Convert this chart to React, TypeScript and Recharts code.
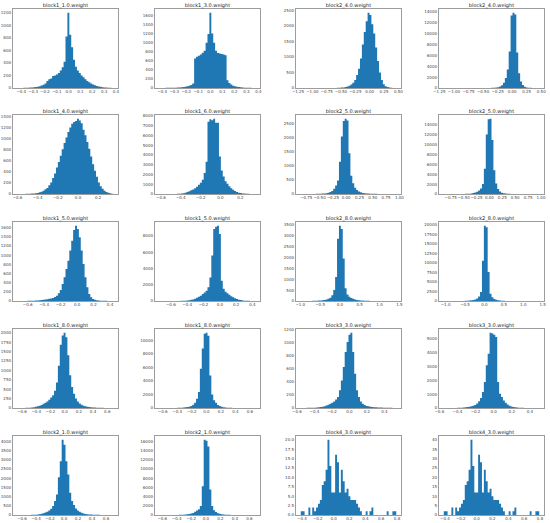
import React from "react";
import { AreaChart, Area, XAxis, YAxis } from "recharts";

const titles = [
  "block1_1.0.weight", "block1_3.0.weight", "block2_4.0.weight", "block2_4.0.weight",
  "block1_4.0.weight", "block1_6.0.weight", "block2_5.0.weight", "block2_5.0.weight",
  "block1_5.0.weight", "block1_5.0.weight", "block2_8.0.weight", "block2_8.0.weight",
  "block1_8.0.weight", "block1_8.0.weight", "block3_3.0.weight", "block3_3.0.weight",
  "block2_1.0.weight", "block2_1.0.weight", "block4_3.0.weight", "block4_3.0.weight",
];

// histogram counts (50 bins each)
const c01 = [1,2,2,3,4,5,6,8,10,14, 20,28,38,50,70,110,140,150,190,200, 215,240,280,330,420,820,1200,850,650,450, 340,280,240,200,170,140,110,90,70,55, 42,32,25,18,13,9,6,4,3,2];
const c02 = [1,2,2,3,3,4,5,6,8,10, 13,17,22,30,40,50,65,100,650,690, 710,740,780,820,1000,1190,1660,1200,1000,820, 770,760,750,740,720,170,110,75,50,38, 28,20,14,10,7,5,4,3,2,1];
const c03 = [1,0,0,0,0,0,0,0,0,0, 0,0,1,1,1,2,2,3,4,6, 9,13,20,30,45,70,110,170,260,420, 620,950,1400,1800,2150,2420,2350,2050,1750,1300, 870,500,260,120,60,30,15,8,4,2];
const c04 = [1,0,0,0,0,0,0,0,0,0, 0,0,0,1,1,1,2,2,3,4, 6,8,11,15,22,32,50,90,150,260, 500,950,1850,3400,6700,13300,13800,13500,6500,2700, 1200,550,250,110,50,25,12,6,3,1];
const c05 = [1,1,2,2,3,4,5,7,10,14, 20,30,42,60,85,110,160,210,290,370, 480,580,690,810,920,1020,1120,1200,1270,1300, 1320,1360,1330,1280,1160,1060,940,820,680,540, 420,310,210,140,95,60,38,22,12,6];
const c06 = [1,1,1,1,2,3,4,6,10,18, 30,50,80,120,200,280,380,450,600,750, 950,1150,1460,2150,3300,7400,7650,7550,7700,7300, 7300,3850,2400,1800,1300,1050,800,600,440,300, 200,140,90,60,40,25,15,9,5,2];
const c07 = [1,1,1,1,2,2,3,4,5,7, 10,14,20,30,45,70,110,190,300,480, 1150,2050,2600,2680,2620,1450,650,380,220,140, 90,60,40,28,20,14,10,8,6,5, 4,3,3,2,2,1,1,1,1,1];
const c08 = [1,1,1,2,2,3,4,6,8,12, 18,28,45,70,110,180,290,450,700,1100, 2000,5100,12000,15100,15200,10900,4800,2100,1000,500, 260,140,80,50,30,20,14,10,7,5, 4,3,2,2,1,1,1,1,1,1];
const c09 = [1,1,1,2,2,3,4,5,7,9, 12,16,20,26,33,40,48,56,65,85, 116,167,240,370,516,700,880,1100,1316,1550, 1640,1570,1390,1100,807,516,298,150,80,44, 25,15,10,7,5,4,3,2,1,1];
const c10 = [1,1,1,2,2,3,4,5,7,10, 14,20,30,45,70,100,140,200,290,400, 520,650,850,1050,1250,1700,2900,5600,8850,9150, 9260,8250,2500,1500,1150,950,780,600,460,340, 240,160,110,70,45,28,17,10,5,2];
const c11 = [1,1,2,2,3,4,6,8,12,18, 25,35,50,70,100,150,260,500,1100,2850, 3450,3300,1950,580,300,200,140,100,70,50, 35,25,18,13,10,7,5,4,3,2, 2,1,1,1,1,1,0,0,0,1];
const c12 = [1,1,2,2,3,4,6,9,13,20, 30,45,70,110,170,260,400,650,1200,2400, 10600,19800,19400,7600,1900,1000,550,300,170,100, 60,40,26,18,12,8,6,4,3,2, 2,1,1,1,1,0,0,1,0,1];
const c13 = [1,1,2,3,4,6,9,13,20,30, 45,60,80,110,140,170,220,280,340,460, 680,1120,1680,1930,2000,1880,1400,870,560,380, 250,170,120,85,60,45,32,24,18,13, 10,8,6,5,4,3,2,2,1,1];
const c14 = [1,1,1,2,3,4,6,9,14,20, 30,45,65,95,140,200,300,480,790,1380, 2360,5800,8800,11000,11130,10700,4800,2000,1130,790, 450,280,180,120,80,55,38,26,18,13, 9,7,5,4,3,2,2,1,1,1];
const c15 = [1,1,1,2,2,3,4,5,7,10, 14,20,28,38,50,66,80,100,130,168, 270,422,626,855,1010,1120,1150,855,524,270, 168,100,65,45,32,25,20,16,13,11, 9,8,6,5,4,3,2,2,1,1];
const c16 = [1,2,2,3,4,6,8,12,17,24, 34,48,65,90,120,160,220,320,480,720, 1150,1870,3080,3920,5430,5380,5290,5120,1870,1030, 790,550,380,250,160,110,75,50,35,25, 18,13,9,7,5,3,2,1,1,1];
const c17 = [1,1,1,2,3,4,6,9,13,20, 30,45,65,90,130,180,250,340,490,760, 1120,2050,2920,4090,3820,2920,2200,1210,760,540, 360,250,170,120,85,60,42,30,22,16, 12,9,7,5,4,3,2,2,1,1];
const c18 = [1,1,1,2,3,4,6,9,14,22, 35,55,80,120,170,240,330,460,700,1000, 1230,1950,6270,16360,16150,14920,5550,1950,1010,650, 400,260,170,110,75,50,35,25,18,13, 9,7,5,4,3,2,2,1,1,1];
const c19 = [1,1,0,0,2,0,2,1,2,3, 4,8,9,12,20,13,6,6,16,14, 6,12,9,6,7,5,4,4,4,3, 2,1,0,0,1,0,1,2,0,0, 0,0,0,0,0,1,0,0,1,1];
const c20 = [2,2,0,0,4,0,4,2,4,6, 8,16,18,24,40,26,12,12,32,28, 12,24,18,12,14,10,8,8,8,6, 4,2,0,0,2,0,2,4,0,0, 0,0,0,0,0,2,0,0,2,2];

// histogram bin ranges [min, max]
const binRanges: [number, number][] = [
  [-0.43, 0.377], [-0.421, 0.374], [-1.202, 0.463], [-1.175, 0.465],
  [-0.598, 0.349], [-0.612, 0.35], [-0.854, 0.941], [-0.885, 0.966],
  [-0.72, 0.439], [-0.736, 0.434], [-0.988, 1.421], [-1.047, 1.411],
  [-0.66, 0.684], [-0.64, 0.672], [-0.556, 0.535], [-0.551, 0.503],
  [-0.661, 0.703], [-0.635, 0.681], [-0.415, 0.79], [-0.415, 0.79],
];

// x tick labels
const xtA = ["\u22120.4", "\u22120.3", "\u22120.2", "\u22120.1", "0.0", "0.1", "0.2", "0.3", "0.4"];
const xtB = ["\u22121.25", "\u22121.00", "\u22120.75", "\u22120.50", "\u22120.25", "0.00", "0.25", "0.50"];
const xtC = ["\u22120.6", "\u22120.4", "\u22120.2", "0.0", "0.2"];
const xtD = ["\u22120.75", "\u22120.50", "\u22120.25", "0.00", "0.25", "0.50", "0.75", "1.00"];
const xtE = ["\u22120.6", "\u22120.4", "\u22120.2", "0.0", "0.2", "0.4"];
const xtF = ["\u22121.0", "\u22120.5", "0.0", "0.5", "1.0", "1.5"];
const xtG = ["\u22120.6", "\u22120.4", "\u22120.2", "0.0", "0.2", "0.4", "0.6"];
const xtH = ["\u22120.4", "\u22120.2", "0.0", "0.2", "0.4", "0.6", "0.8"];

// y tick labels
const yt01 = ["0", "200", "400", "600", "800", "1000", "1200"];
const yt02 = ["0", "200", "400", "600", "800", "1000", "1200", "1400", "1600"];
const yt03 = ["0", "500", "1000", "1500", "2000", "2500"];
const yt04 = ["0", "2000", "4000", "6000", "8000", "10000", "12000", "14000"];
const yt05 = ["0", "200", "400", "600", "800", "1000", "1200", "1400"];
const yt06 = ["0", "1000", "2000", "3000", "4000", "5000", "6000", "7000", "8000"];
const yt07 = ["0", "500", "1000", "1500", "2000", "2500"];
const yt08 = ["0", "2000", "4000", "6000", "8000", "10000", "12000", "14000"];
const yt09 = ["0", "200", "400", "600", "800", "1000", "1200", "1400", "1600"];
const yt10 = ["0", "2000", "4000", "6000", "8000"];
const yt11 = ["0", "500", "1000", "1500", "2000", "2500", "3000", "3500"];
const yt12 = ["0", "2500", "5000", "7500", "10000", "12500", "15000", "17500", "20000"];
const yt13 = ["0", "250", "500", "750", "1000", "1250", "1500", "1750", "2000"];
const yt14 = ["0", "2000", "4000", "6000", "8000", "10000"];
const yt15 = ["0", "200", "400", "600", "800", "1000", "1200"];
const yt16 = ["0", "1000", "2000", "3000", "4000", "5000"];
const yt17 = ["0", "500", "1000", "1500", "2000", "2500", "3000", "3500", "4000"];
const yt18 = ["0", "2000", "4000", "6000", "8000", "10000", "12000", "14000", "16000"];
const yt19 = ["0.0", "2.5", "5.0", "7.5", "10.0", "12.5", "15.0", "17.5", "20.0"];
const yt20 = ["0", "5", "10", "15", "20", "25", "30", "35", "40"];

const COUNTS = [c01, c02, c03, c04, c05, c06, c07, c08, c09, c10, c11, c12, c13, c14, c15, c16, c17, c18, c19, c20];
const XTS = [xtA, xtA, xtB, xtB, xtC, xtC, xtD, xtD, xtE, xtE, xtF, xtF, xtG, xtG, xtE, xtE, xtG, xtG, xtH, xtH];
const YTS = [yt01, yt02, yt03, yt04, yt05, yt06, yt07, yt08, yt09, yt10, yt11, yt12, yt13, yt14, yt15, yt16, yt17, yt18, yt19, yt20];

// layout
const COL_X = [13, 155, 296, 439];
const ROW_Y = [9, 115, 222, 329, 436];
const PW = 105;
const PH = 79;
const YW = 26;
const MT = 8;
const MR = 6;
const XH = 9;
const FONT = "DejaVu Sans";
const BAR = "#1f77b4";

const toNum = (s: string) => parseFloat(s.replace("\u2212", "-"));

function fmt(vals: number[], labels: string[]) {
  return (v: number) => {
    const i = vals.findIndex((t) => Math.abs(t - v) < 1e-9);
    return i >= 0 ? labels[i] : String(v);
  };
}

function Panel({ k }: { k: number }) {
  const counts = COUNTS[k];
  const [lo, hi] = binRanges[k];
  const n = counts.length;
  const w = (hi - lo) / n;
  const data = counts.map((c, i) => ({ x: lo + i * w, y: c }));
  data.push({ x: hi, y: counts[n - 1] });
  const pad = (hi - lo) * 0.05;
  const x0 = lo - pad;
  const x1 = hi + pad;
  const ymax = Math.max(...counts) * 1.05;
  const xl = XTS[k];
  const yl = YTS[k];
  const xv = xl.map(toNum);
  const yv = yl.map(toNum);
  const col = k % 4;
  const row = Math.floor(k / 4);
  const left = COL_X[col] - YW;
  const top = ROW_Y[row] - MT;
  const tickStyle = { fontSize: 4, fill: "#444", fontFamily: FONT };
  return (
    <div style={{ position: "absolute", left, top, width: YW + PW + MR, height: MT + PH + XH }}>
      <AreaChart
        width={YW + PW + MR}
        height={MT + PH + XH}
        data={data}
        margin={{ top: MT, right: MR, left: 0, bottom: 0 }}
      >
        <XAxis
          type="number"
          dataKey="x"
          domain={[x0, x1]}
          allowDataOverflow
          ticks={xv}
          interval={0}
          tickFormatter={fmt(xv, xl)}
          height={XH}
          tick={tickStyle}
          tickSize={1.2}
          tickMargin={0.6}
          axisLine={false}
          tickLine={{ stroke: "#666", strokeWidth: 0.5 }}
        />
        <YAxis
          type="number"
          domain={[0, ymax]}
          allowDataOverflow
          ticks={yv}
          interval={0}
          tickFormatter={fmt(yv, yl)}
          width={YW}
          tick={tickStyle}
          tickSize={1.2}
          tickMargin={0.8}
          axisLine={false}
          tickLine={{ stroke: "#666", strokeWidth: 0.5 }}
        />
        <Area
          type="stepAfter"
          dataKey="y"
          fill={BAR}
          fillOpacity={1}
          stroke="none"
          dot={false}
          activeDot={false}
          isAnimationActive={false}
        />
      </AreaChart>
      <div
        style={{
          position: "absolute",
          left: YW - 1,
          top: MT - 1,
          width: PW + 2,
          height: PH + 2,
          border: "1px solid #9c9c9c",
          boxSizing: "border-box",
          pointerEvents: "none",
        }}
      />
      <div
        style={{
          position: "absolute",
          left: YW,
          top: 0.5,
          width: PW,
          textAlign: "center",
          fontSize: 5,
          lineHeight: "6px",
          fontFamily: FONT,
          color: "#222",
          whiteSpace: "nowrap",
        }}
      >
        {titles[k]}
      </div>
    </div>
  );
}

export default function App() {
  return (
    <div style={{ position: "fixed", left: 0, top: 0, width: 550, height: 523, background: "#fff", overflow: "hidden" }}>
      {titles.map((_, k) => (
        <Panel key={k} k={k} />
      ))}
    </div>
  );
}
